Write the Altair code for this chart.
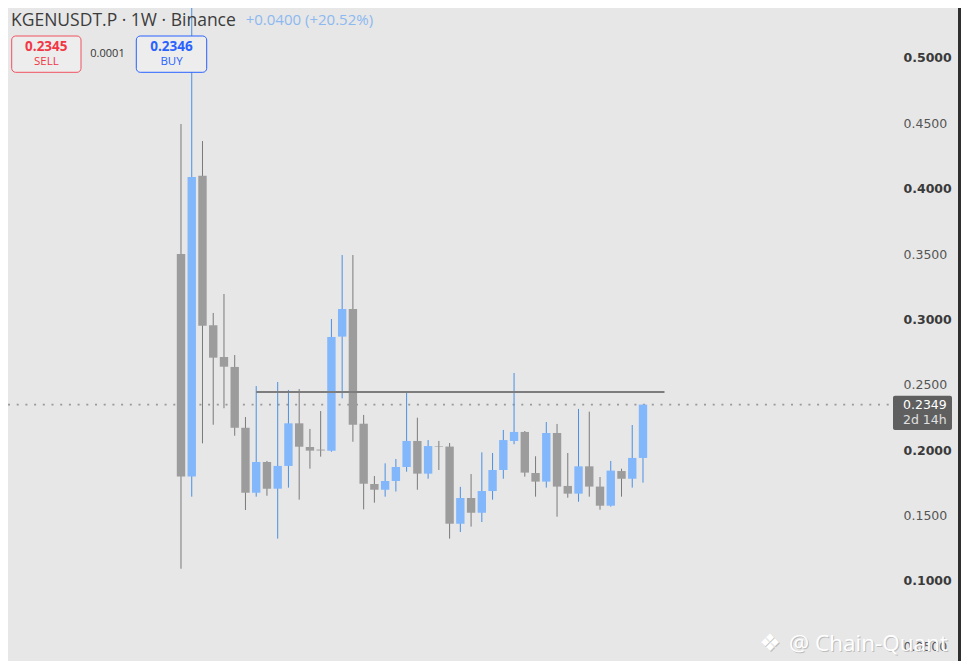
import altair as alt
import pandas as pd

# ---- data ----
opens = [0.35, 0.18, 0.41, 0.2956, 0.2713, 0.2637, 0.2172, 0.1675, 0.191, 0.1706,
         0.188, 0.2206, 0.2025, 0.2005, 0.1997, 0.2869, 0.308, 0.2203, 0.1742, 0.1698,
         0.1765, 0.1872, 0.2071, 0.1821, 0.2032, 0.2028, 0.1438, 0.1635, 0.1522, 0.1688,
         0.1849, 0.2071, 0.214, 0.1826, 0.176, 0.2132, 0.1727, 0.1668, 0.1877, 0.1722,
         0.1576, 0.1841, 0.1782, 0.1941]
highs = [0.4495, 0.57, 0.4365, 0.305, 0.3195, 0.2728, 0.2254, 0.2491, 0.1918, 0.2522,
         0.2461, 0.2468, 0.2163, 0.23, 0.3004, 0.3493, 0.3493, 0.227, 0.1803, 0.19,
         0.1933, 0.2443, 0.2249, 0.2078, 0.2071, 0.2055, 0.172, 0.1818, 0.1984, 0.1979,
         0.2155, 0.2591, 0.2147, 0.1954, 0.2216, 0.2201, 0.1979, 0.2316, 0.2295, 0.1795,
         0.1918, 0.1859, 0.2193, 0.2349]
lows = [0.1094, 0.1645, 0.2053, 0.2195, 0.2321, 0.2111, 0.1543, 0.1645, 0.1652, 0.1324,
        0.1714, 0.1622, 0.1859, 0.1951, 0.1989, 0.2397, 0.2065, 0.1548, 0.1599, 0.1645,
        0.1684, 0.1836, 0.1698, 0.1782, 0.1849, 0.1324, 0.1375, 0.1416, 0.1451, 0.1622,
        0.1782, 0.2046, 0.1798, 0.1645, 0.1714, 0.1492, 0.1637, 0.1606, 0.1645, 0.1545,
        0.1569, 0.1645, 0.1714, 0.1752]
closes = [0.18, 0.409, 0.2953, 0.2708, 0.2639, 0.2172, 0.1675, 0.191, 0.1706, 0.188,
          0.2206, 0.2027, 0.1997, 0.1998, 0.2866, 0.308, 0.2195, 0.1744, 0.1698, 0.1765,
          0.1872, 0.2071, 0.1821, 0.2032, 0.2028, 0.1438, 0.1635, 0.1522, 0.1688, 0.1849,
          0.2078, 0.214, 0.1829, 0.176, 0.2132, 0.1722, 0.1668, 0.1877, 0.1722, 0.1576,
          0.1844, 0.1782, 0.1941, 0.2349]
price_ticks = [0.05, 0.10, 0.15, 0.20, 0.25, 0.30, 0.35, 0.40, 0.45, 0.50]
last_price = 0.2349
resistance_level = 0.2445
resistance_from, resistance_to = 7, 45
title_text = "KGENUSDT.P · 1W · Binance"
change_text = "+0.0400 (+20.52%)"
sell_price, buy_price, spread = "0.2345", "0.2346", "0.0001"
countdown = "2d 14h"
watermark = "@ Chain-Quant"

df = pd.DataFrame({"i": list(range(len(opens))), "open": opens, "high": highs,
                   "low": lows, "close": closes})

W, H = 885, 653
RIGHT = 68
BG = "#e7e7e7"
UP_BODY, UP_WICK = "#82b7fc", "#4a8fe3"
DN_BODY, DN_WICK = "#9c9c9c", "#7a7a7a"
FONT = "Open Sans"

xs = alt.Scale(domain=[-16.102, 66.27], nice=False, zero=False)
ys = alt.Scale(domain=[0.03881, 0.53824], nice=False, zero=False)

up = "datum.close >= datum.open"

wicks = alt.Chart(df).mark_rule(strokeWidth=1, clip=True).encode(
    x=alt.X("i:Q", scale=xs, axis=None),
    y=alt.Y("low:Q", scale=ys,
            axis=alt.Axis(orient="right", values=price_ticks, format=".4f", title=None,
                          ticks=False, domain=False, grid=False, labelPadding=10,
                          labelAlign="left", labelBaseline="middle",
                          labelFont="DejaVu Sans", labelFontSize=12.5,
                          labelOverlap=False, labelFlush=False,
                          labelFontWeight=alt.ExprRef(
                              "abs(datum.value*10 - round(datum.value*10)) < 0.001 ? 'bold' : 'normal'"),
                          labelColor=alt.ExprRef(
                              "abs(datum.value*10 - round(datum.value*10)) < 0.001 ? '#3a3a3a' : '#555555'"))),
    y2="high:Q",
    color=alt.condition(up, alt.value(UP_WICK), alt.value(DN_WICK)),
)

bodies = alt.Chart(df).transform_calculate(
    x0="datum.i - 0.39", x1="datum.i + 0.39"
).mark_rect().encode(
    x=alt.X("x0:Q", scale=xs, axis=None),
    x2="x1:Q",
    y=alt.Y("open:Q", scale=ys),
    y2="close:Q",
    color=alt.condition(up, alt.value(UP_BODY), alt.value(DN_BODY)),
)

res_df = pd.DataFrame({"a": [resistance_from], "b": [resistance_to], "p": [resistance_level]})
resistance = alt.Chart(res_df).mark_rule(color="#7d7d7d", strokeWidth=2).encode(
    x=alt.X("a:Q", scale=xs, axis=None), x2="b:Q", y=alt.Y("p:Q", scale=ys))

lp_df = pd.DataFrame({"p": [last_price]})
dotted = alt.Chart(lp_df).mark_rule(color="#999999", strokeWidth=1.6,
                                    strokeDash=[2, 6.7]).encode(
    x=alt.value(0), x2=alt.value(882), y=alt.Y("p:Q", scale=ys))

one = pd.DataFrame({"k": [0]})

price_box = alt.Chart(one).mark_rect(fill="#5f5f5f", cornerRadius=2).encode(
    x=alt.value(885), x2=alt.value(944), y=alt.value(387.7), y2=alt.value(422))
price_txt = alt.Chart(lp_df).mark_text(align="left", baseline="middle", font="DejaVu Sans",
                                       fontSize=12.5, color="#ffffff").encode(
    x=alt.value(895), y=alt.Y("p:Q", scale=ys), text=alt.value(f"{last_price:.4f}"))
count_txt = alt.Chart(lp_df).mark_text(align="left", baseline="middle", font="DejaVu Sans",
                                       fontSize=12.5, color="#e0e0e0", dy=15.6).encode(
    x=alt.value(895), y=alt.Y("p:Q", scale=ys), text=alt.value(countdown))

frame = alt.Chart(one).mark_rect(fill="#2f2f2f").encode(
    x=alt.value(W + RIGHT - 3), x2=alt.value(W + RIGHT), y=alt.value(0), y2=alt.value(H))

title = alt.Chart(one).mark_text(align="left", baseline="alphabetic", font=FONT,
                                 fontSize=17.5, color="#3c3c3c").encode(
    x=alt.value(3), y=alt.value(18), text=alt.value(title_text))
change = alt.Chart(one).mark_text(align="left", baseline="alphabetic", font=FONT,
                                  fontSize=15, color="#8cb9f0").encode(
    x=alt.value(237.7), y=alt.value(17), text=alt.value(change_text))

sell_box = alt.Chart(one).mark_rect(fill="#ededed", stroke="#f0525f", strokeWidth=1,
                                    cornerRadius=4).encode(
    x=alt.value(3.7), x2=alt.value(73), y=alt.value(28), y2=alt.value(64.3))
sell_p = alt.Chart(one).mark_text(font=FONT, fontSize=13.5, fontWeight="bold",
                                  color="#f23645", baseline="middle").encode(
    x=alt.value(38.3), y=alt.value(38.5), text=alt.value(sell_price))
sell_l = alt.Chart(one).mark_text(font=FONT, fontSize=11.5, color="#f23645",
                                  baseline="middle").encode(
    x=alt.value(38.3), y=alt.value(54), text=alt.value("SELL"))
spread_t = alt.Chart(one).mark_text(font=FONT, fontSize=11, color="#333333",
                                    baseline="middle").encode(
    x=alt.value(99.5), y=alt.value(45.5), text=alt.value(spread))
buy_box = alt.Chart(one).mark_rect(fill="#ededed", stroke="#2962ff", strokeWidth=1,
                                   cornerRadius=4).encode(
    x=alt.value(128.3), x2=alt.value(198.7), y=alt.value(28), y2=alt.value(64.3))
buy_p = alt.Chart(one).mark_text(font=FONT, fontSize=13.5, fontWeight="bold",
                                 color="#2962ff", baseline="middle").encode(
    x=alt.value(163.5), y=alt.value(38.5), text=alt.value(buy_price))
buy_l = alt.Chart(one).mark_text(font=FONT, fontSize=11.5, color="#2962ff",
                                 baseline="middle").encode(
    x=alt.value(163.5), y=alt.value(54), text=alt.value("BUY"))

wm_logo_s = alt.Chart(one).mark_text(font="DejaVu Sans", fontSize=24, color="#bdbdbd",
                                     baseline="middle", dx=1, dy=1).encode(
    x=alt.value(762), y=alt.value(636), text=alt.value("❖"))
wm_logo = alt.Chart(one).mark_text(font="DejaVu Sans", fontSize=24, color="#ffffff",
                                   baseline="middle").encode(
    x=alt.value(762), y=alt.value(636), text=alt.value("❖"))
wm_s = alt.Chart(one).mark_text(font=FONT, fontSize=22.5, color="#bdbdbd", align="left",
                                baseline="middle", dx=1, dy=1).encode(
    x=alt.value(781), y=alt.value(636), text=alt.value(watermark))
wm = alt.Chart(one).mark_text(font=FONT, fontSize=22.5, color="#ffffff", align="left",
                              baseline="middle").encode(
    x=alt.value(781), y=alt.value(636), text=alt.value(watermark))

chart = alt.layer(
    dotted, wicks, bodies, resistance, price_box, price_txt, count_txt,
    title, change, sell_box, sell_p, sell_l, spread_t, buy_box, buy_p, buy_l,
    wm_logo_s, wm_logo, wm_s, wm, frame,
).properties(
    width=W, height=H, background=BG, autosize="none",
    padding={"left": 0, "top": 0, "right": RIGHT, "bottom": 0},
).configure_view(stroke=None)

chart.save("out.html", embed_options={"renderer": "svg", "actions": False})
